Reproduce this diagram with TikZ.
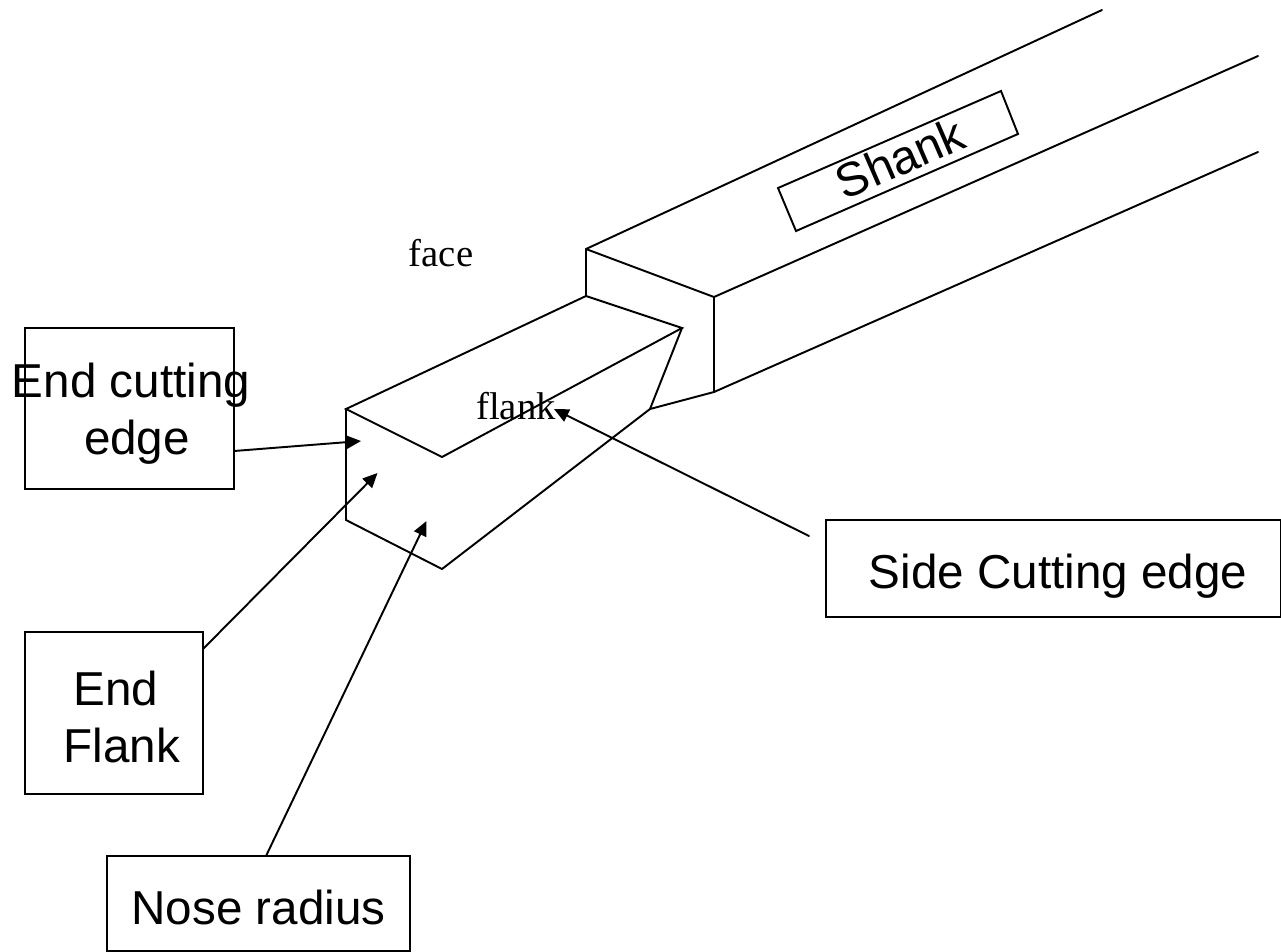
\documentclass[tikz,border=0pt]{standalone}
\usepackage{fontspec}
\setmainfont{Liberation Sans}
\newfontfamily\serifx{Liberation Serif}
\usetikzlibrary{arrows.meta}
\tikzset{
 x=0.75pt,y=-0.75pt,
 ln/.style={draw=black,line width=1.45pt,line cap=round,line join=miter},
 lab/.style={draw=black,line width=1.45pt,align=center,inner sep=0pt,font=\fontsize{35.7}{43}\selectfont},
 arr/.style={ln,-{Triangle[length=11pt,width=10pt]}},
 txt/.style={inner sep=0pt,font=\fontsize{35.7}{43}\selectfont},
 sf/.style={inner sep=0pt,font=\serifx\fontsize{29}{34}\selectfont}
}
\begin{document}
\begin{tikzpicture}
\useasboundingbox (0,0) rectangle (1281,951);
\coordinate (t1) at (1102,10);
\coordinate (t2) at (1258,56);
\coordinate (t3) at (1258,152);
\coordinate (a) at (586,249);
\coordinate (b) at (714,297);
\coordinate (c) at (714,392);
\coordinate (d) at (586,296);
\coordinate (e) at (682,328);
\coordinate (f) at (650,409);
\coordinate (g) at (346,409);
\coordinate (h) at (442,457);
\coordinate (i) at (346,520);
\coordinate (j) at (442,569);
\draw[ln] (a)--(t1);
\draw[ln] (b)--(t2);
\draw[ln] (c)--(t3);
\draw[ln] (a)--(b)--(c)--(f);
\draw[ln] (a)--(d);
\draw[ln] (g)--(d)--(e)--(h)--cycle;
\draw[ln] (g)--(i)--(j)--(f)--(e);
\node[lab,minimum width=157pt,minimum height=120.75pt] (endbox) at (129.5,408.5) {};
\coordinate (ecb) at (234,451);
\node[txt,align=center] (ect) at (131,414) {End cutting\\\hspace{9pt}edge};
\node[lab,minimum width=133.5pt,minimum height=121.5pt] (efbox) at (114,713) {};
\coordinate (efb) at (203,649);
\node[txt,align=center] (eft) at (122,717) {\hspace*{-9pt}End\\Flank};
\node[lab,minimum width=227.25pt,minimum height=71.25pt] (nrbox) at (258.5,903.5) {\raisebox{-3pt}[\height][\depth]{Nose radius}};
\coordinate (nrb) at (266,856);
\node[lab,minimum width=341.25pt,minimum height=72.75pt] (scbox) at (1053.5,568.5) {\raisebox{-6pt}[\height][\depth]{\hspace*{7pt}Side Cutting edge}};
\coordinate (scb) at (809,536);
\node[sf] (face) at (441,253) {face};
\node[sf] (flank) at (516,406) {flank};
\draw[ln] (778,188)--(1001,91)--(1018,134)--(796,231)--cycle;
\node[txt,rotate=23.5] (sh) at (900,158) {Shank};
\coordinate (a1) at (361,441);
\coordinate (a2) at (377.5,473);
\coordinate (a3) at (426.5,521);
\coordinate (a4) at (554,409);
\draw[arr] (ecb)--(a1);
\draw[arr] (efb)--(a2);
\draw[arr] (nrb)--(a3);
\draw[arr] (scb)--(a4);
\end{tikzpicture}
\end{document}
